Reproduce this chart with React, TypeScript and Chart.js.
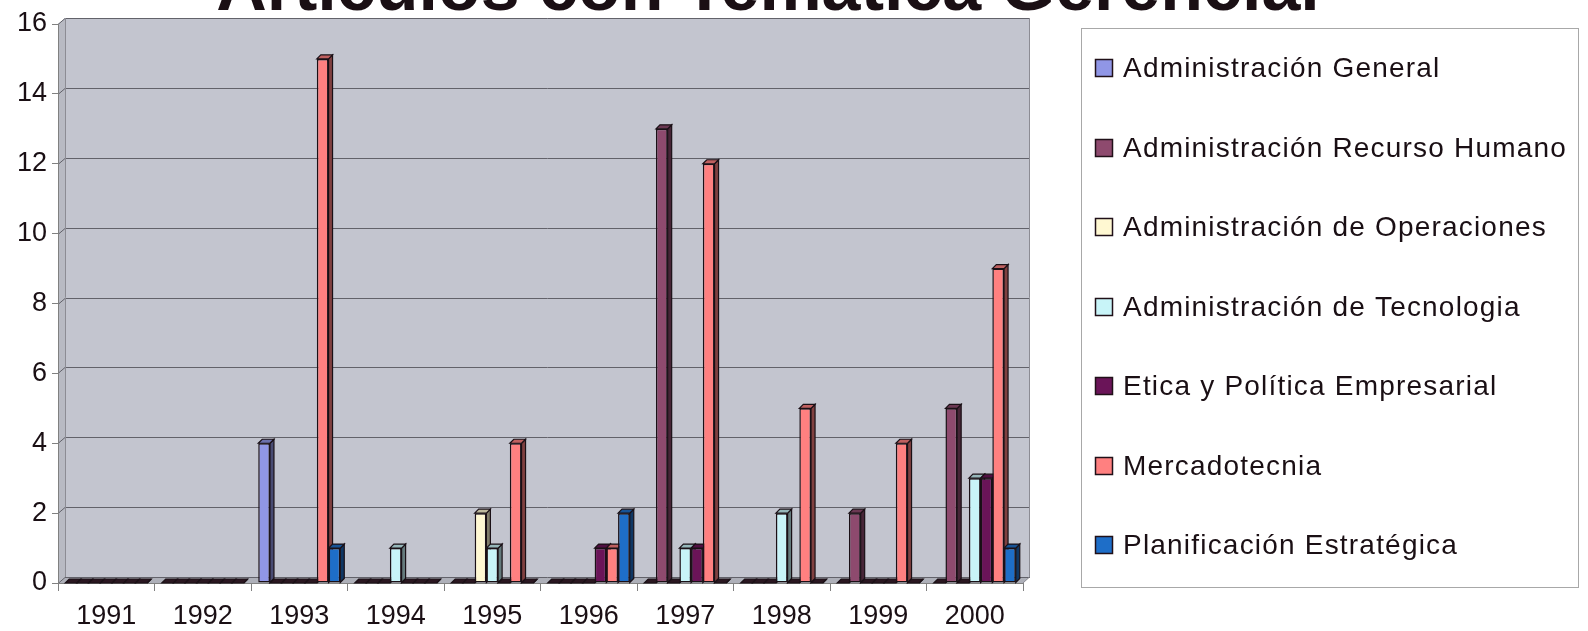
import React, { useEffect, useRef } from 'react';
import { Chart, registerables } from 'chart.js';

Chart.register(...registerables);

const TITLE = 'Artículos con Temática Gerencial';
const years = ['1991', '1992', '1993', '1994', '1995', '1996', '1997', '1998', '1999', '2000'];
const seriesNames = [
  'Administración General',
  'Administración Recurso Humano',
  'Administración de Operaciones',
  'Administración de Tecnologia',
  'Etica y Política Empresarial',
  'Mercadotecnia',
  'Planificación Estratégica',
];
const admGeneral = [0, 0, 4, 0, 0, 0, 0, 0, 0, 0];
const admRecursoHumano = [0, 0, 0, 0, 0, 0, 13, 0, 2, 5];
const admOperaciones = [0, 0, 0, 0, 2, 0, 0, 0, 0, 0];
const admTecnologia = [0, 0, 0, 1, 1, 0, 1, 2, 0, 3];
const eticaPolitica = [0, 0, 0, 0, 0, 1, 1, 0, 0, 3];
const mercadotecnia = [0, 0, 15, 0, 4, 1, 12, 5, 4, 9];
const planificacion = [0, 0, 1, 0, 0, 2, 0, 0, 0, 1];
const seriesValues = [admGeneral, admRecursoHumano, admOperaciones, admTecnologia, eticaPolitica, mercadotecnia, planificacion];
const seriesColors = ['#9096E6', '#8E4A6E', '#FFF8D2', '#C8F4F8', '#6A1458', '#FF8080', '#1E6EC8'];
const yTicks = [0, 2, 4, 6, 8, 10, 12, 14, 16];

const FONT = '"Liberation Sans", Arial, Helvetica, sans-serif';
const TEXT = '#1a0f14';
const EDGE = '#1a1016';

function shade(hex: string, f: number) {
  const n = parseInt(hex.slice(1), 16);
  const r = Math.round(((n >> 16) & 255) * f);
  const g = Math.round(((n >> 8) & 255) * f);
  const b = Math.round((n & 255) * f);
  return `rgb(${r},${g},${b})`;
}

const OX = 7;
const OY = 6;

const wallPlugin = {
  id: 'wall3d',
  beforeDraw(chart: any) {
    const ctx = chart.ctx;
    const { left: L, right: R, top: T, bottom: B } = chart.chartArea;
    const ys = chart.scales.y;
    ctx.save();
    ctx.fillStyle = TEXT;
    ctx.font = `bold 70px ${FONT}`;
    ctx.textAlign = 'center';
    ctx.textBaseline = 'alphabetic';
    ctx.fillText(TITLE, 768, 10);
    ctx.fillStyle = '#C3C5CF';
    ctx.fillRect(L + OX, T - OY, R - L, B - T);
    ctx.fillStyle = '#B8BAC3';
    ctx.beginPath();
    ctx.moveTo(L, T);
    ctx.lineTo(L + OX, T - OY);
    ctx.lineTo(L + OX, B - OY);
    ctx.lineTo(L, B);
    ctx.closePath();
    ctx.fill();
    ctx.fillStyle = '#AEB0B9';
    ctx.beginPath();
    ctx.moveTo(L, B);
    ctx.lineTo(L + OX, B - OY);
    ctx.lineTo(R + OX, B - OY);
    ctx.lineTo(R, B);
    ctx.closePath();
    ctx.fill();
    ctx.strokeStyle = '#62626A';
    ctx.lineWidth = 1;
    yTicks.forEach((v) => {
      const y = Math.round(ys.getPixelForValue(v)) + 0.5;
      ctx.beginPath();
      ctx.moveTo(L, y);
      ctx.lineTo(L + OX, y - OY);
      ctx.lineTo(R + OX, y - OY);
      ctx.stroke();
    });
    ctx.strokeStyle = '#8C8C94';
    ctx.beginPath();
    ctx.moveTo(L + OX + 0.5, B - OY);
    ctx.lineTo(L + OX + 0.5, T - OY);
    ctx.moveTo(R + OX - 0.5, T - OY);
    ctx.lineTo(R + OX - 0.5, B - OY);
    ctx.lineTo(R, B);
    ctx.stroke();
    ctx.restore();
  },
  afterDraw(chart: any) {
    const ctx = chart.ctx;
    ctx.save();
    ctx.strokeStyle = '#A8A8A8';
    ctx.lineWidth = 1;
    ctx.strokeRect(1081.5, 28.5, 497, 559);
    ctx.font = `28px ${FONT}`;
    (ctx as any).letterSpacing = '1.2px';
    ctx.textAlign = 'left';
    ctx.textBaseline = 'alphabetic';
    seriesNames.forEach((name, i) => {
      const base = Math.round(77 + 79.5 * i);
      ctx.fillStyle = seriesColors[i];
      ctx.fillRect(1095, base - 18, 18, 18);
      ctx.strokeStyle = '#201018';
      ctx.lineWidth = 1.5;
      ctx.strokeRect(1095.5, base - 17.5, 17, 17);
      ctx.fillStyle = TEXT;
      ctx.fillText(name, 1123, base);
    });
    ctx.restore();
  },
};

const bar3dPlugin = {
  id: 'bar3d',
  beforeDatasetsDraw(chart: any) {
    const ctx = chart.ctx;
    const dx = 4;
    const dy = 4;
    ctx.save();
    ctx.lineWidth = 1.2;
    ctx.strokeStyle = EDGE;
    const n = chart.data.labels.length;
    for (let j = 0; j < n; j++) {
      chart.data.datasets.forEach((ds: any, di: number) => {
        const meta = chart.getDatasetMeta(di);
        const el = meta.data[j];
        if (!el) return;
        const col = seriesColors[di];
        const zero = ds.data[j] === 0;
        const { x, y, base, width } = el.getProps(['x', 'y', 'base', 'width'], true);
        const l = x - width / 2;
        const r = x + width / 2;
        const top = Math.min(y, base);
        ctx.fillStyle = shade(col, 0.5);
        ctx.beginPath();
        ctx.moveTo(r, top);
        ctx.lineTo(r + dx, top - dy);
        ctx.lineTo(r + dx, base - dy);
        ctx.lineTo(r, base);
        ctx.closePath();
        ctx.fill();
        ctx.stroke();
        ctx.fillStyle = zero ? '#2a1620' : shade(col, 0.75);
        ctx.beginPath();
        ctx.moveTo(l, top);
        ctx.lineTo(l + dx, top - dy);
        ctx.lineTo(r + dx, top - dy);
        ctx.lineTo(r, top);
        ctx.closePath();
        ctx.fill();
        ctx.stroke();
      });
    }
    ctx.restore();
  },
};

export default function App() {
  const ref = useRef<HTMLCanvasElement | null>(null);
  useEffect(() => {
    if (!ref.current) return;
    const chart = new Chart(ref.current, {
      type: 'bar',
      data: {
        labels: years,
        datasets: seriesNames.map((name, i) => ({
          label: name,
          data: seriesValues[i],
          backgroundColor: seriesColors[i],
          borderColor: EDGE,
          borderWidth: 1.5,
          borderSkipped: false,
          categoryPercentage: 0.85,
          barPercentage: 1.0,
        })),
      },
      options: {
        responsive: false,
        animation: false,
        layout: { padding: { left: 0, top: 24, right: 565, bottom: 0 } },
        plugins: {
          legend: { display: false },
          title: { display: false },
          tooltip: { enabled: false },
        },
        scales: {
          x: {
            offset: true,
            grid: { offset: true, drawOnChartArea: false, drawTicks: true, tickLength: 8, color: '#808080' },
            border: { display: true, color: '#808080' },
            ticks: { color: TEXT, font: { family: FONT, size: 27 }, padding: 9, maxRotation: 0 },
            afterFit: (s: any) => {
              s.height = 48;
            },
          },
          y: {
            min: 0,
            max: 16,
            grid: { drawOnChartArea: false, drawTicks: true, tickLength: 6, color: '#808080' },
            border: { display: true, color: '#808080' },
            ticks: { stepSize: 2, color: TEXT, font: { family: FONT, size: 27 }, padding: 5 },
            afterFit: (s: any) => {
              s.width = 58;
            },
          },
        },
      },
      plugins: [wallPlugin, bar3dPlugin],
    });
    return () => chart.destroy();
  }, []);
  return (
    <div style={{ position: 'absolute', left: 0, top: 0, width: 1588, height: 631, background: '#fff' }}>
      <canvas ref={ref} width={1588} height={631} style={{ display: 'block' }} />
    </div>
  );
}
